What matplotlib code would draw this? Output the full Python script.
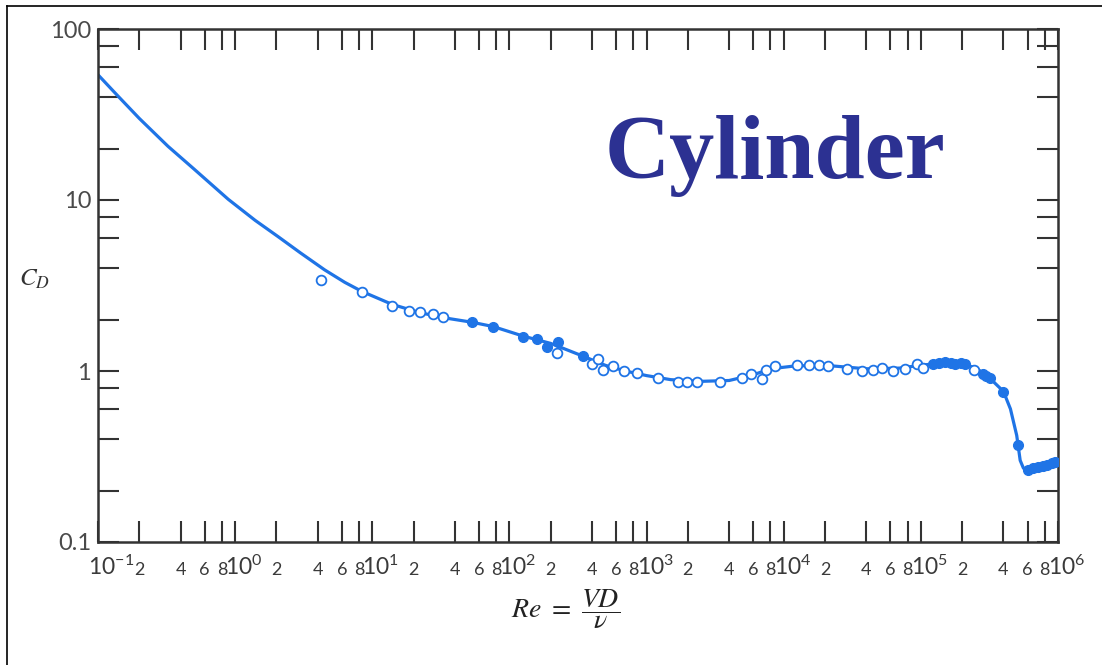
import numpy as np
import matplotlib
matplotlib.use("Agg")
import matplotlib.pyplot as plt
from matplotlib.ticker import FixedLocator, FixedFormatter
from matplotlib.lines import Line2D
import matplotlib.transforms as mtransforms

plt.rcParams['mathtext.fontset'] = 'stix'

# Smooth drag curve (Re, C_D)
curve_re = [0.1, 0.14, 0.2, 0.324, 0.5, 0.89, 1.4, 2.06, 3, 4.5, 6.3, 8.4, 14, 22, 33, 53, 76,
            126, 200, 345, 500, 700, 1000, 1500, 2500, 4000, 6000, 8000, 12000, 20000,
            40000, 70000, 100000, 150000, 200000, 250000, 300000, 400000, 450000,
            500000, 530000, 560000, 620000, 750000, 1000000]
curve_cd = [54, 40.5, 30, 20.6, 15.2, 10.1, 7.6, 6.1, 4.9, 3.9, 3.3, 2.92, 2.45, 2.2, 2.05, 1.93,
            1.82, 1.6, 1.45, 1.22, 1.08, 1.0, 0.94, 0.89, 0.87, 0.88, 0.95, 1.03, 1.07, 1.08,
            1.03, 1.04, 1.08, 1.12, 1.11, 1.04, 0.95, 0.76, 0.6, 0.42, 0.3, 0.27, 0.265,
            0.275, 0.295]

# Open markers
open_re = [4.24, 8.4, 13.9, 18.5, 22.3, 27.7, 32.8, 223, 401, 442, 482, 570, 687, 853,
           1216, 1700, 1977, 2340, 3440, 4980, 5790, 6970, 7450, 8670, 12500, 15300,
           18200, 21100, 29000, 37300, 45000, 52300, 62900, 76900, 94200, 104000, 245000]
open_cd = [3.4, 2.89, 2.39, 2.24, 2.21, 2.15, 2.06, 1.27, 1.10, 1.17, 1.01, 1.07, 1.0, 0.97,
           0.91, 0.863, 0.863, 0.863, 0.86, 0.91, 0.96, 0.90, 1.01, 1.07, 1.08, 1.08,
           1.08, 1.07, 1.03, 1.0, 1.01, 1.04, 1.0, 1.03, 1.10, 1.04, 1.01]

# Filled markers
filled_re = [53.5, 76, 126, 159, 188, 226, 345, 123000, 135000, 151000, 165000, 178000,
             195000, 211000, 285000, 300000, 321000, 399000, 513000, 607000, 660000,
             718000, 780000, 835000, 900000, 955000]
filled_cd = [1.93, 1.81, 1.58, 1.54, 1.38, 1.48, 1.22, 1.10, 1.11, 1.13, 1.12, 1.10,
             1.11, 1.10, 0.96, 0.94, 0.91, 0.754, 0.37, 0.264, 0.27,
             0.275, 0.28, 0.283, 0.29, 0.294]

x_decades = [-1, 0, 1, 2, 3, 4, 5, 6]
y_decades = [-1, 0, 1, 2]
y_labels = ["0.1", "1", "10", "100"]
minor_mult = [2, 4, 6, 8]
title_text = "Cylinder"

blue = '#1f74e6'
W, H = 1102, 665
fig = plt.figure(figsize=(W / 100, H / 100), dpi=100)
ax = fig.add_axes([98 / W, 1 - 542 / H, 960 / W, 513 / H])

ax.plot(curve_re, curve_cd, color=blue, lw=2.3, zorder=2)
ax.plot(open_re, open_cd, 'o', ms=7, mfc='white', mec=blue, mew=1.3, ls='none', zorder=3)
ax.plot(filled_re, filled_cd, 'o', ms=7, mfc=blue, mec=blue, mew=1.0, ls='none', zorder=3)

ax.set_xscale('log')
ax.set_yscale('log')
ax.set_xlim(1e-1, 1e6)
ax.set_ylim(0.1, 100)

xmaj = [10.0 ** d for d in x_decades]
xmin = [m * 10.0 ** d for d in x_decades[:-1] for m in minor_mult]
ax.xaxis.set_major_locator(FixedLocator(xmaj))
ax.xaxis.set_major_formatter(FixedFormatter([r'$\mathregular{10^{%d}}$' % d for d in x_decades]))
ax.xaxis.set_minor_locator(FixedLocator(xmin))
ax.xaxis.set_minor_formatter(FixedFormatter([str(m) for d in x_decades[:-1] for m in minor_mult]))

ymaj = [10.0 ** d for d in y_decades]
ymin = [m * 10.0 ** d for d in y_decades[:-1] for m in minor_mult]
ax.yaxis.set_major_locator(FixedLocator(ymaj))
ax.yaxis.set_major_formatter(FixedFormatter(y_labels))
ax.yaxis.set_minor_locator(FixedLocator(ymin))
ax.yaxis.set_minor_formatter(FixedFormatter([''] * len(ymin)))

tc = '#333333'
ax.tick_params(which='both', direction='in', top=True, right=True, length=15, width=1.5,
               color=tc)
ax.tick_params(axis='x', which='major', labelsize=16.5, pad=24, labelcolor='#3a3a3a')
ax.tick_params(axis='x', which='minor', labelsize=13, pad=24, labelcolor='#3a3a3a')
ax.tick_params(axis='y', which='major', labelsize=17, pad=5, labelcolor='#4a4a4a')
for lab in ax.get_xticklabels(which='both'):
    lab.set_va('baseline')
    lab.set_fontfamily('Lato')
for lab in ax.get_xticklabels(which='major'):
    lab.set_ha('left')
    lab.set_transform(lab.get_transform() +
                      mtransforms.ScaledTranslation(-10 / 100, 0, fig.dpi_scale_trans))
for lab in ax.get_yticklabels():
    lab.set_fontfamily('Lato')

for s in ax.spines.values():
    s.set_linewidth(1.8)
    s.set_color('#333333')

ax.set_ylabel(r'$C_D$', fontsize=18, rotation=0, color='#333333')
ax.yaxis.set_label_coords(-0.066, 0.49)
ax.set_xlabel(r'$Re\ =\ \dfrac{VD}{\nu}$', fontsize=20, color='#222222', va='center')
ax.xaxis.set_label_coords(0.487, -0.13)

fig.text(775 / W, 1 - 178 / H, title_text, fontsize=65, fontweight='bold',
         family='Liberation Serif', color='#2c3192', ha='center', va='baseline')

# outer frame (cropped)
fig.add_artist(Line2D([7 / W, 7 / W], [0, 1 - 6 / H], transform=fig.transFigure,
                      color='black', lw=1.2))
fig.add_artist(Line2D([7 / W, 1], [1 - 6 / H, 1 - 6 / H], transform=fig.transFigure,
                      color='black', lw=1.2))

fig.savefig('out.png', dpi=100)
